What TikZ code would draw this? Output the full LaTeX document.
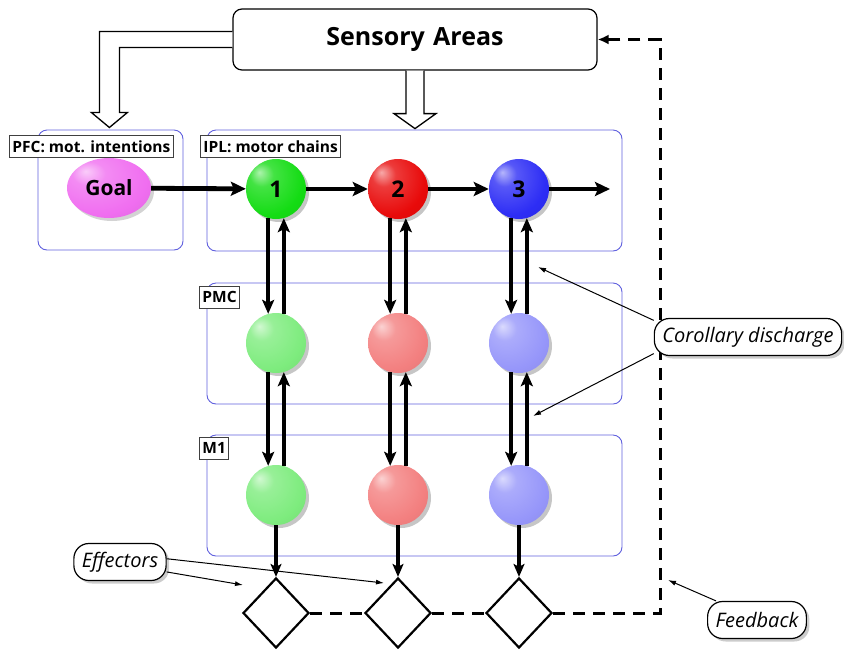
\documentclass[tikz,border=0pt]{standalone}
\usepackage{fontspec}
\setmainfont{Open Sans}
\usetikzlibrary{arrows.meta,shadows,shapes.geometric,calc}
\definecolor{areablue}{RGB}{96,96,222}
\definecolor{unitgreen}{RGB}{20,220,20}
\definecolor{unitred}{RGB}{232,10,10}
\definecolor{unitblue}{RGB}{45,45,245}
\definecolor{goalpink}{RGB}{240,110,240}
\makeatletter
\pgfdeclareradialshading[tikz@ball]{sphere}{\pgfpoint{-14bp}{14bp}}{%
  color(0bp)=(tikz@ball!35!white); color(10bp)=(tikz@ball!80!white);
  color(30bp)=(tikz@ball); color(52bp)=(tikz@ball!88!black);
  color(70bp)=(tikz@ball!65!black)}
\makeatother
\tikzset{
  area/.style={draw=areablue,line width=0.9pt,rounded corners=9pt},
  arealabel/.style={draw=black!75,fill=white,line width=0.9pt,anchor=north west,
    inner sep=3pt,minimum height=22pt,font=\bfseries\fontsize{15.5}{15.5}\selectfont},
  sensbox/.style={draw,rounded corners=9pt,line width=1.2pt,minimum width=364pt,
    minimum height=61pt,font=\bfseries\fontsize{25}{25}\selectfont},
  hollow/.style={draw,fill=white,line width=1.3pt},
  sphere/.style={ball color=#1,shading=sphere},
  unit/.style={circle,minimum size=60pt,inner sep=0pt,
    font=\bfseries\fontsize{23}{23}\selectfont,
    drop shadow={shadow xshift=3pt,shadow yshift=-3pt,opacity=0.45}},
  goal/.style={ellipse,minimum width=84pt,minimum height=60pt,inner sep=0pt,
    sphere=goalpink,font=\bfseries\fontsize{21}{21}\selectfont,
    drop shadow={shadow xshift=3pt,shadow yshift=-3pt,opacity=0.35}},
  effector/.style={diamond,draw,line width=2.2pt,fill=white,minimum width=66pt,
    minimum height=70pt,inner sep=0pt},
  flow/.style={line width=4.8pt,-{Stealth[length=15pt,width=14pt,inset=3pt]}},
  vflow/.style={line width=4pt,-{Stealth[length=14pt,width=12pt,inset=3pt]}},
  outflow/.style={line width=3.2pt,-{Stealth[length=13pt,width=11pt,inset=3pt]}},
  fbline/.style={line width=3pt,dash pattern=on 12pt off 8pt},
  callout/.style={draw,fill=white,rounded corners=15pt,line width=1.2pt,
    minimum height=37pt,inner xsep=8pt,font=\itshape\fontsize{20}{20}\selectfont,
    drop shadow={shadow xshift=3pt,shadow yshift=-3pt,opacity=0.4}},
  note/.style={line width=1pt,-{Latex[length=8pt,width=5pt]}}
}
\begin{document}
\begin{tikzpicture}[x=1pt,y=-1pt]
  \useasboundingbox (0,0) rectangle (844,649);

  \draw[area] (38,130) rectangle (183,250);
  \draw[area] (207,130) rectangle (622,251);
  \draw[area] (207,283) rectangle (622,404);
  \draw[area] (207,435) rectangle (622,556);

  \node[sensbox] at (415,39.5) (sens) {Sensory\,\,Areas};

  \draw[hollow] ($(sens.west)+(0,-8)$) -- ++(-133,0) -- ++(0,81) -- ++(-8,0)
    -- ++(18,15) -- ++(18,-15) -- ++(-8,0) -- ++(0,-65) -- ($(sens.west)+(0,8)$);
  \draw[hollow] ($(sens.south)+(-9,0)$) -- ++(0,43) -- ++(-12,0) -- ++(21,15)
    -- ++(21,-15) -- ++(-12,0) -- ($(sens.south)+(9,0)$);

  \node[arealabel] at (9,135)   (pfc) {PFC: mot. intentions};
  \node[arealabel] at (200,135) (ipl) {IPL: motor chains};
  \node[arealabel] at (199,286) (pmc) {PMC};
  \node[arealabel] at (199,437) (mone) {M1};

  \node[goal] at (109,188) (goal) {Goal};

  \node[unit,sphere=unitgreen] at (276,189) (a1) {1};
  \node[unit,sphere=unitred]   at (398,189) (a2) {2};
  \node[unit,sphere=unitblue]  at (519,189) (a3) {3};
  \node[unit,sphere=unitgreen!55] at (276,343) (b1) {};
  \node[unit,sphere=unitred!52]   at (398,343) (b2) {};
  \node[unit,sphere=unitblue!50]  at (519,343) (b3) {};
  \node[unit,sphere=unitgreen!55] at (276,495) (c1) {};
  \node[unit,sphere=unitred!52]   at (398,495) (c2) {};
  \node[unit,sphere=unitblue!50]  at (519,495) (c3) {};

  \node[effector] at (276,613) (d1) {};
  \node[effector] at (398,613) (d2) {};
  \node[effector] at (519,613) (d3) {};

  \coordinate (out) at (610,189);
  \draw[flow] (goal) -- (a1);
  \draw[flow] (a1) -- (a2);
  \draw[flow] (a2) -- (a3);
  \draw[flow] (a3) -- (out);

  \foreach \i in {1,2,3} {
    \draw[vflow] (a\i.-105) -- (b\i.105);
    \draw[vflow] (b\i.75) -- (a\i.-75);
    \draw[vflow] (c\i.75) -- (b\i.-75);
    \draw[vflow] (b\i.-105) -- (c\i.105);
    \draw[outflow] (c\i) -- (d\i);
  }

  \coordinate (fbtop) at (660,39.5);
  \draw[fbline] (d1) -- (d2);
  \draw[fbline] (d2) -- (d3);
  \draw[fbline,-{Latex[length=11pt,width=10pt]}] (d3.east) -| (fbtop) -- (sens.east);

  \node[callout] at (748,337) (cd) {Corollary discharge};
  \node[callout] at (120,562) (eff) {Effectors};
  \node[callout] at (757,620) (fbk) {Feedback};

  \coordinate (cdA) at (538,267);
  \coordinate (cdB) at (533,416);
  \coordinate (effA) at (243,585);
  \coordinate (effB) at (384,583);
  \coordinate (fbA) at (668,580);
  \draw[note] (cd.170) -- (cdA);
  \draw[note] (cd.190) -- (cdB);
  \draw[note] (eff.-12) -- (effA);
  \draw[note] (eff.4) -- (effB);
  \draw[note] (fbk.155) -- (fbA);
\end{tikzpicture}
\end{document}
